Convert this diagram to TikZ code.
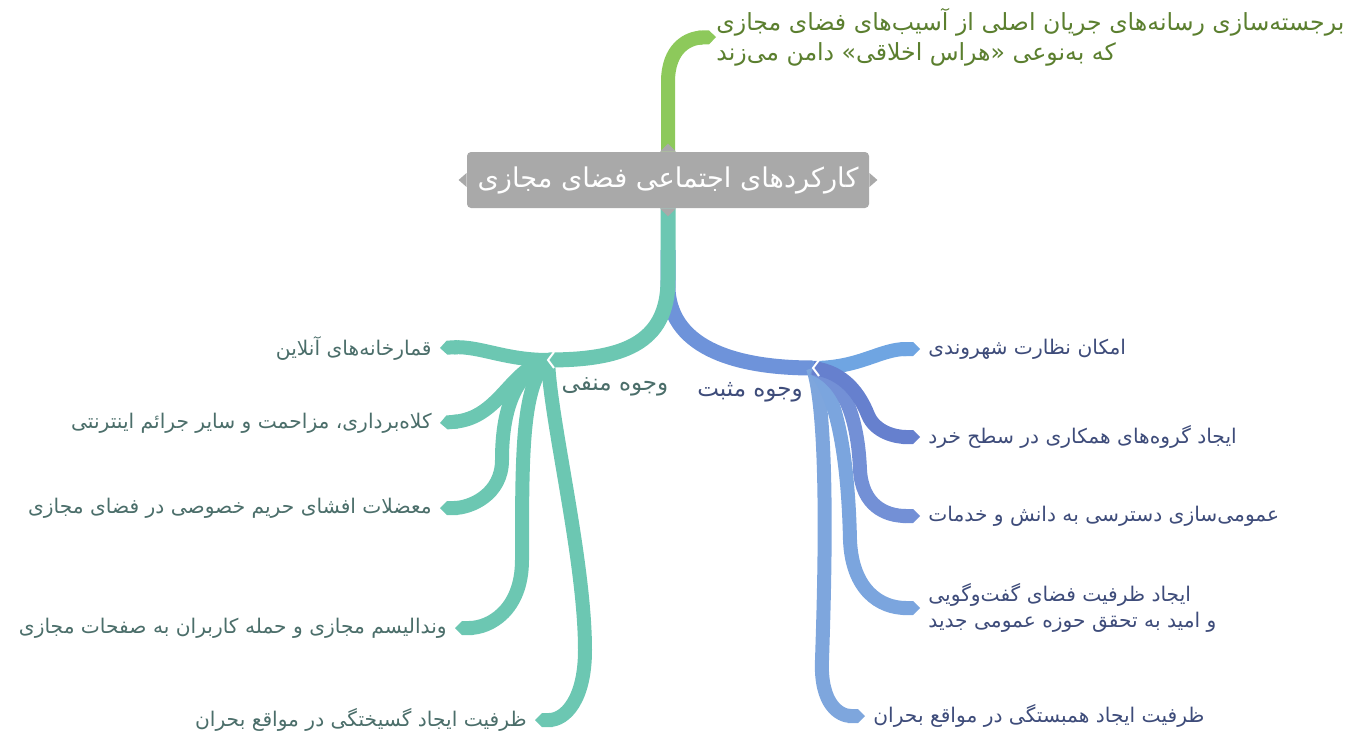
\documentclass[tikz,border=0pt]{standalone}
\usepackage{fontspec}
\newfontfamily\fa[Script=Arabic]{DejaVu Sans}
\TeXXeTstate=1
\usetikzlibrary{arrows.meta}
\newcommand\rl[1]{\beginR #1\endR}
\definecolor{teal1}{HTML}{6CC7B2}
\definecolor{blue0}{HTML}{6E93DA}
\definecolor{blueA}{HTML}{6FA5E2}
\definecolor{blueB}{HTML}{6680CE}
\definecolor{blueC}{HTML}{7390D6}
\definecolor{blueD}{HTML}{7BA5DE}
\definecolor{blueE}{HTML}{7EA6DD}
\definecolor{green1}{HTML}{8DC95B}
\definecolor{rootgray}{HTML}{A9A9A9}
\definecolor{toptxt}{HTML}{5B7F2F}
\definecolor{lefttxt}{HTML}{4B6E6A}
\definecolor{righttxt}{HTML}{3E4C7A}
\begin{document}
\begin{tikzpicture}[x=0.5pt,y=-0.5pt,
  rootbox/.style={fill=rootgray, rounded corners=2pt, minimum width=201pt, minimum height=28pt, text=white, inner sep=0pt, font=\fa\fontsize{13.6}{16}\selectfont},
  toptext/.style={anchor=west, align=left, inner sep=0pt, text=toptxt, font=\fa\fontsize{11.8}{15}\selectfont},
  leftitem/.style={anchor=east, inner xsep=4pt, inner ysep=1pt, text=lefttxt, font=\fa\fontsize{10.1}{13}\selectfont},
  rightitem/.style={anchor=west, align=left, inner xsep=4pt, inner ysep=1pt, text=righttxt, font=\fa\fontsize{10.1}{13}\selectfont},
  sidelbl/.style={inner sep=0pt, font=\fa\fontsize{11.5}{14}\selectfont},
  branch/.style={line width=7pt, -{Triangle Cap}},
  trunk/.style={line width=7.5pt},
]
\useasboundingbox (0,0) rectangle (1362,734);

% root
\node[rootbox] (root) at (668,180) {\rl{کارکردهای اجتماعی فضای مجازی}};
\fill[rootgray] (root.west) ++(0,-7) -- ++(-8,7) -- ++(8,7) -- cycle;
\fill[rootgray] (root.east) ++(0,-7) -- ++(8,7) -- ++(-8,7) -- cycle;

% top branch
\node[toptext] (top) at (716,37) {\rl{برجسته‌سازی رسانه‌های جریان اصلی از آسیب‌های فضای مجازی}\\ \rl{که به‌نوعی «هراس اخلاقی» دامن می‌زند}};
\draw[green1, branch] (root.north) -- (668,82) .. controls (668,48) and (688,38) .. (top.west);
\fill[rootgray] (root.north) ++(-8,0) -- ++(8,-8) -- ++(8,8) -- cycle;

% hubs
\coordinate (hubL) at (548,360);
\coordinate (hubR) at (813,368);

% main branches
\draw[blue0, trunk] (668,250) -- (668,290) .. controls (672,350) and (740,368) .. (hubR);
\draw[teal1, trunk] (root.south) -- (668,280) .. controls (668,345) and (620,360) .. (hubL);
\fill[rootgray] (root.south) ++(-8,0) -- ++(8,8) -- ++(8,-8) -- cycle;

\node[sidelbl, text=lefttxt] (neg) at (615,387) {\rl{وجوه منفی}};
\node[sidelbl, text=righttxt] (pos) at (750,392) {\rl{وجوه مثبت}};

% left items
\node[leftitem] (l1) at (440,348) {\rl{قمارخانه‌های آنلاین}};
\node[leftitem] (l2) at (440,423) {\rl{کلاه‌برداری، مزاحمت و سایر جرائم اینترنتی}};
\node[leftitem] (l3) at (440,508) {\rl{معضلات افشای حریم خصوصی در فضای مجازی}};
\node[leftitem] (l4) at (455,628) {\rl{وندالیسم مجازی و حمله کاربران به صفحات مجازی}};
\node[leftitem] (l5) at (535,720) {\rl{ظرفیت ایجاد گسیختگی در مواقع بحران}};

\draw[teal1, branch] (hubL) .. controls (550,420) and (585,560) .. (585,650) .. controls (585,700) and (565,720) .. (l5.east);
\draw[teal1, branch] (hubL) .. controls (522,385) and (522,450) .. (522,560) .. controls (522,610) and (490,628) .. (l4.east);
\draw[teal1, branch] (hubL) .. controls (510,375) and (502,420) .. (502,460) .. controls (502,495) and (470,508) .. (l3.east);
\draw[teal1, branch] (hubL) .. controls (510,368) and (500,418) .. (l2.east);
\draw[teal1, branch] (hubL) .. controls (505,360) and (480,346) .. (l1.east);

% right items
\node[rightitem] (r1) at (920,349) {\rl{امکان نظارت شهروندی}};
\node[rightitem] (r2) at (920,437) {\rl{ایجاد گروه‌های همکاری در سطح خرد}};
\node[rightitem] (r3) at (920,516) {\rl{عمومی‌سازی دسترسی به دانش و خدمات}};
\node[rightitem] (r4) at (920,608) {\rl{ایجاد ظرفیت فضای گفت‌وگویی}\\ \rl{و امید به تحقق حوزه عمومی جدید}};
\node[rightitem] (r5) at (865,716) {\rl{ظرفیت ایجاد همبستگی در مواقع بحران}};

\draw[blueE, branch] (hubR) .. controls (830,420) and (824,600) .. (822,660) .. controls (820,705) and (840,716) .. (r5.west);
\draw[blueD, branch] (hubR) .. controls (835,390) and (848,450) .. (850,540) .. controls (852,590) and (880,608) .. (r4.west);
\draw[blueC, branch] (hubR) .. controls (845,380) and (858,420) .. (860,470) .. controls (862,505) and (885,516) .. (r3.west);
\draw[blueA, branch] (hubR) .. controls (860,368) and (880,349) .. (r1.west);
\draw[blueB, branch] (hubR) .. controls (845,372) and (860,395) .. (868,415) .. controls (875,432) and (895,437) .. (r2.west);

% notches at hubs
\draw[white, line width=1pt] ([shift={(6,-8)}]hubL) -- (hubL) -- ([shift={(6,8)}]hubL);
\draw[white, line width=1pt] ([shift={(6,-8)}]hubR) -- (hubR) -- ([shift={(6,8)}]hubR);
\end{tikzpicture}
\end{document}
